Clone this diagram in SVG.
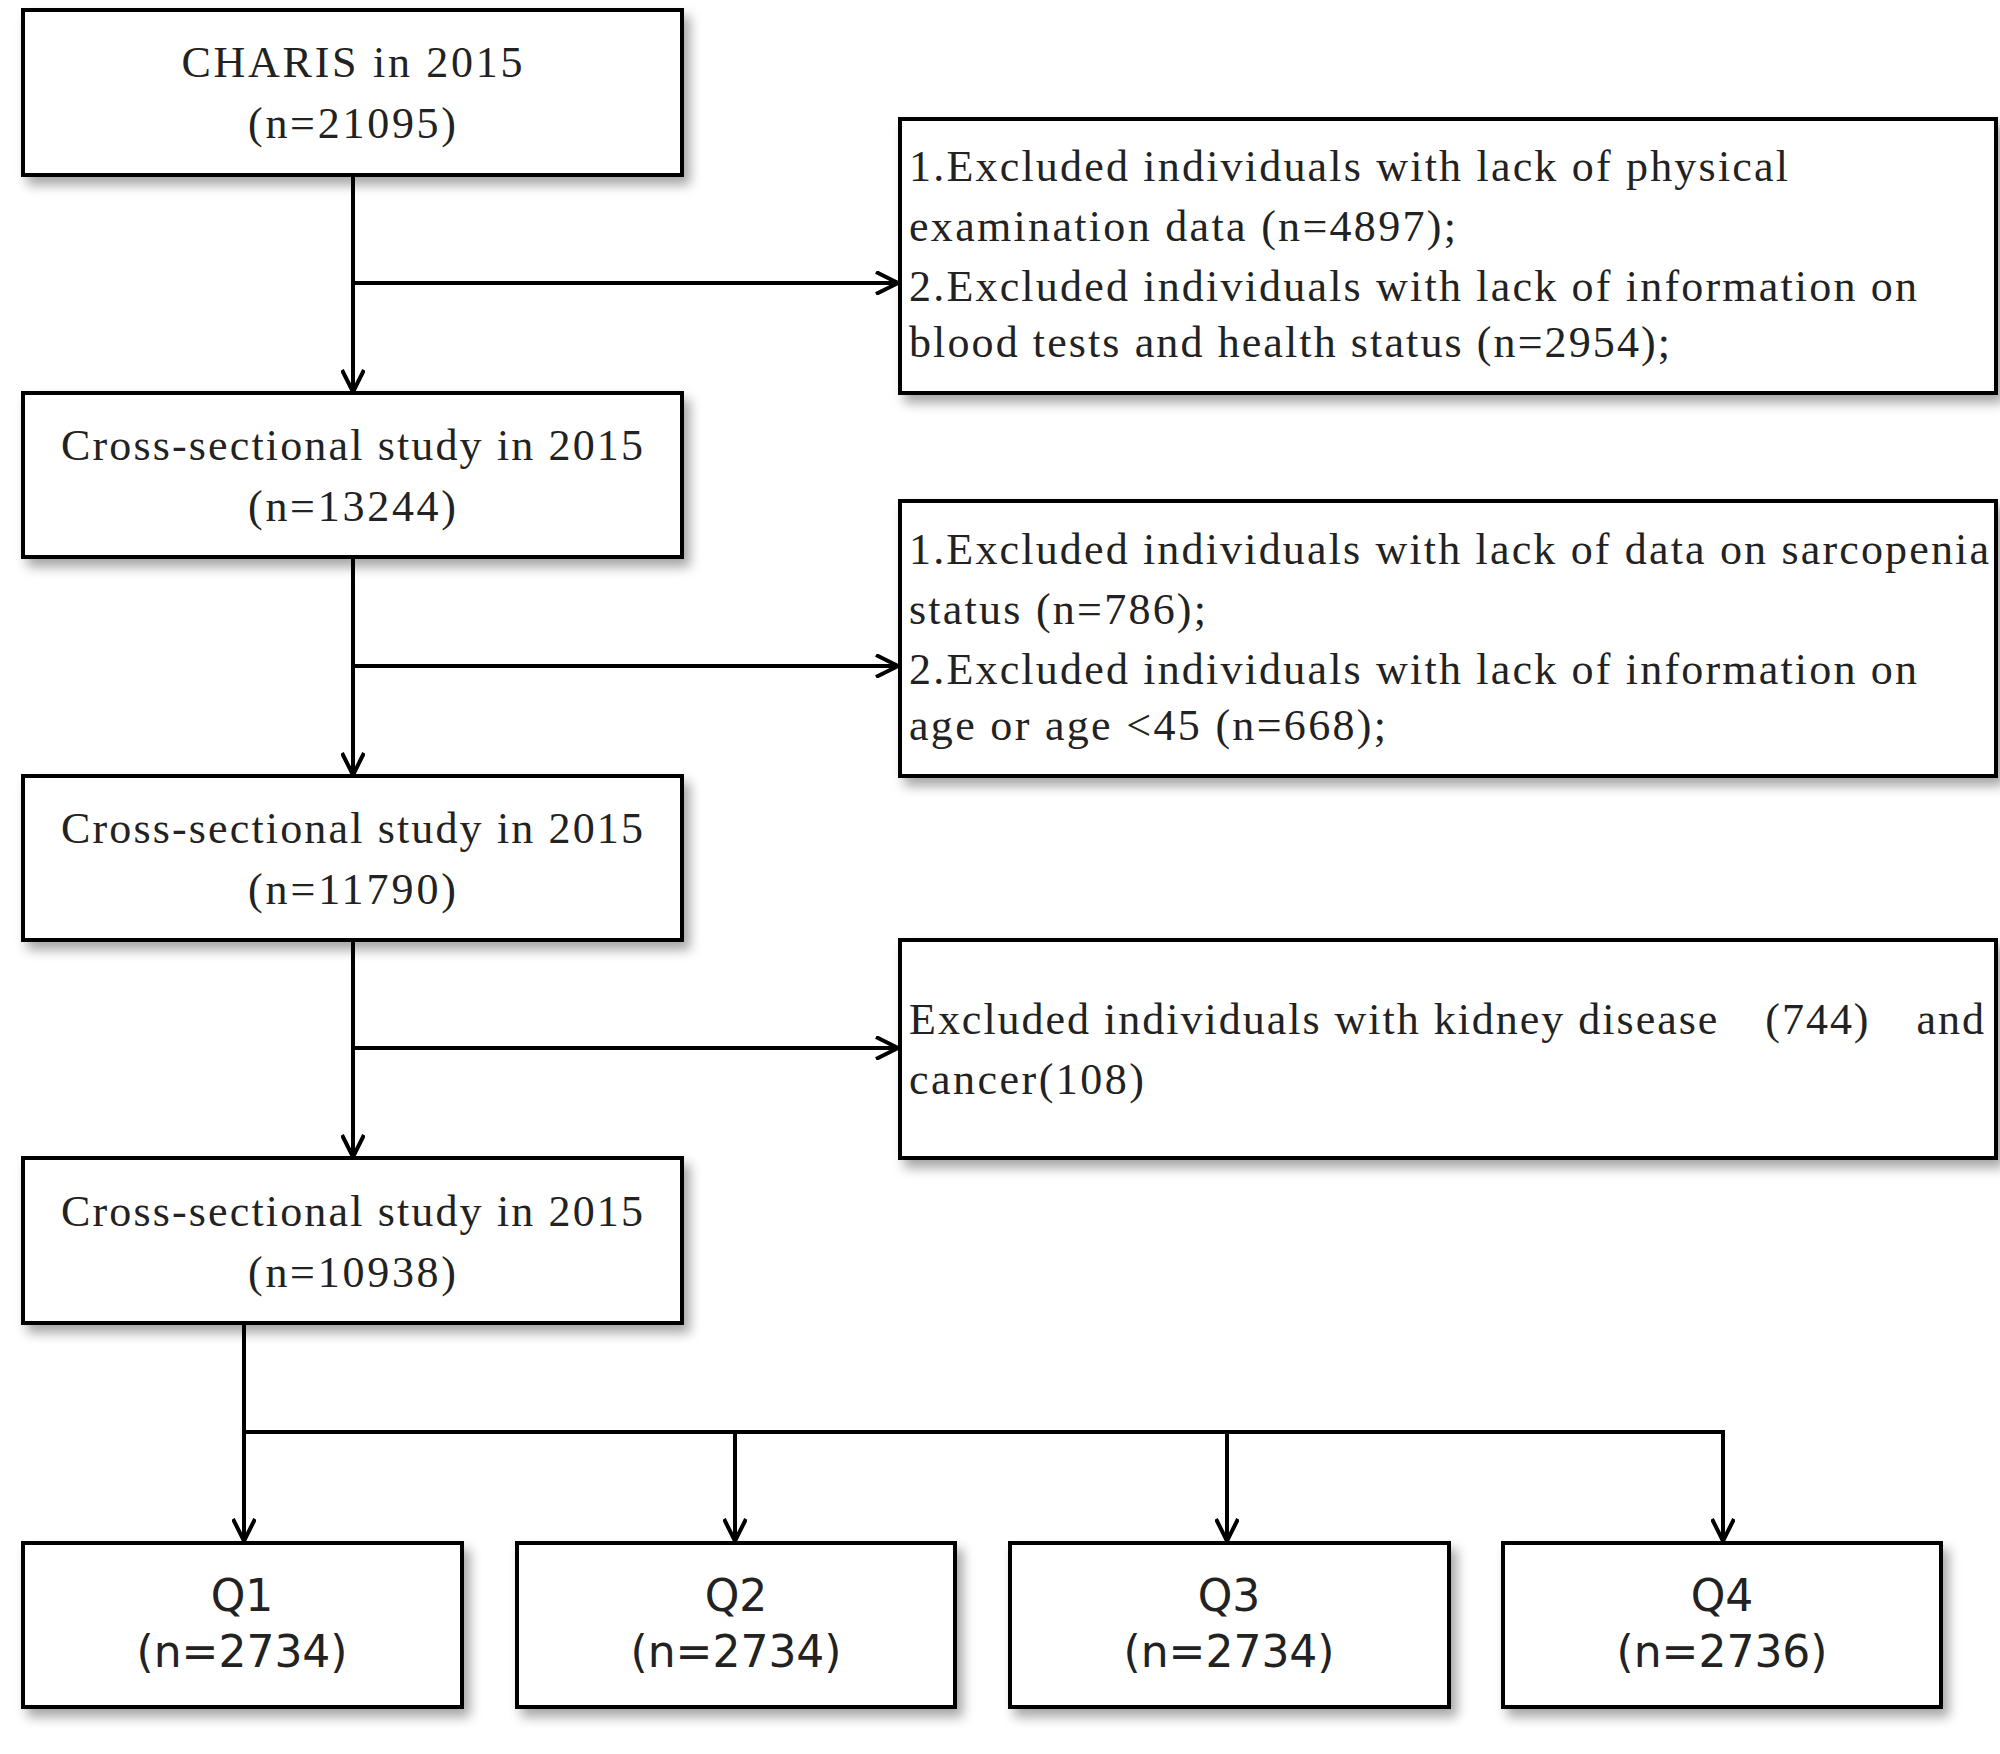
<svg xmlns="http://www.w3.org/2000/svg" width="2000" height="1754" viewBox="0 0 2000 1754">
<style>
.b{fill:#fff;stroke:#000;stroke-width:4;filter:url(#sh)}
.t{font-family:"Liberation Serif",serif;font-size:44px;fill:#222}
.q{font-family:"DejaVu Sans",sans-serif;font-size:44px;fill:#222;text-anchor:middle}
.c{fill:none;stroke:#000;stroke-width:4}
</style>
<defs>
<filter id="sh" x="-10%" y="-10%" width="130%" height="140%"><feDropShadow dx="6" dy="8" stdDeviation="6" flood-color="#000" flood-opacity="0.35"/></filter>
<marker id="a" viewBox="0 0 24 24" refX="23" refY="12" markerWidth="24" markerHeight="24" markerUnits="userSpaceOnUse" orient="auto"><path d="M1,1 L23,12 L1,23" fill="none" stroke="#000" stroke-width="4"/></marker>
</defs>
<rect width="2000" height="1754" fill="#fff"/>
<g id="connectors" class="c">
<path d="M353,175 V392" marker-end="url(#a)"/>
<path d="M353,283 H898" marker-end="url(#a)"/>
<path d="M353,557 V775" marker-end="url(#a)"/>
<path d="M353,666 H898" marker-end="url(#a)"/>
<path d="M353,940 V1157" marker-end="url(#a)"/>
<path d="M353,1048 H898" marker-end="url(#a)"/>
<path d="M244,1323 V1541" marker-end="url(#a)"/>
<path d="M244,1432 H1723 V1541" marker-end="url(#a)"/>
<path d="M735,1432 V1541" marker-end="url(#a)"/>
<path d="M1227,1432 V1541" marker-end="url(#a)"/>
</g>
<g id="n1"><rect class="b" x="23" y="10" width="659" height="165"/><text class="t" text-anchor="middle" x="352" y="77" textLength="341">CHARIS in 2015</text><text class="t" text-anchor="middle" x="352" y="138" textLength="208">(n=21095)</text></g>
<g id="n2"><rect class="b" x="23" y="393" width="659" height="164"/><text class="t" text-anchor="middle" x="352" y="460" textLength="582">Cross-sectional study in 2015</text><text class="t" text-anchor="middle" x="352" y="521" textLength="208">(n=13244)</text></g>
<g id="n3"><rect class="b" x="23" y="776" width="659" height="164"/><text class="t" text-anchor="middle" x="352" y="843" textLength="582">Cross-sectional study in 2015</text><text class="t" text-anchor="middle" x="352" y="904" textLength="208">(n=11790)</text></g>
<g id="n4"><rect class="b" x="23" y="1158" width="659" height="165"/><text class="t" text-anchor="middle" x="352" y="1226" textLength="582">Cross-sectional study in 2015</text><text class="t" text-anchor="middle" x="352" y="1287" textLength="208">(n=10938)</text></g>
<g id="e1"><rect class="b" x="900" y="119" width="1096" height="274"/>
<text class="t" x="909" y="181" textLength="879">1.Excluded individuals with lack of physical</text>
<text class="t" x="909" y="241" textLength="547">examination data (n=4897);</text>
<text class="t" x="909" y="301" textLength="1008">2.Excluded individuals with lack of information on</text>
<text class="t" x="909" y="357" textLength="761">blood tests and health status (n=2954);</text></g>
<g id="e2"><rect class="b" x="900" y="501" width="1096" height="275"/>
<text class="t" x="909" y="564" textLength="1080">1.Excluded individuals with lack of data on sarcopenia</text>
<text class="t" x="909" y="624" textLength="297">status (n=786);</text>
<text class="t" x="909" y="684" textLength="1008">2.Excluded individuals with lack of information on</text>
<text class="t" x="909" y="740" textLength="477">age or age &lt;45 (n=668);</text></g>
<g id="e3"><rect class="b" x="900" y="940" width="1096" height="218"/>
<text class="t" x="909" y="1034" textLength="1075" lengthAdjust="spacing">Excluded individuals with kidney disease　(744)　and</text>
<text class="t" x="909" y="1094" textLength="235">cancer(108)</text></g>
<g id="q1"><rect class="b" x="23" y="1543" width="439" height="164"/><text class="q" x="242" y="1611">Q1</text><text class="q" x="242" y="1667">(n=2734)</text></g>
<g id="q2"><rect class="b" x="517" y="1543" width="438" height="164"/><text class="q" x="736" y="1611">Q2</text><text class="q" x="736" y="1667">(n=2734)</text></g>
<g id="q3"><rect class="b" x="1010" y="1543" width="439" height="164"/><text class="q" x="1229" y="1611">Q3</text><text class="q" x="1229" y="1667">(n=2734)</text></g>
<g id="q4"><rect class="b" x="1503" y="1543" width="438" height="164"/><text class="q" x="1722" y="1611">Q4</text><text class="q" x="1722" y="1667">(n=2736)</text></g>
</svg>
